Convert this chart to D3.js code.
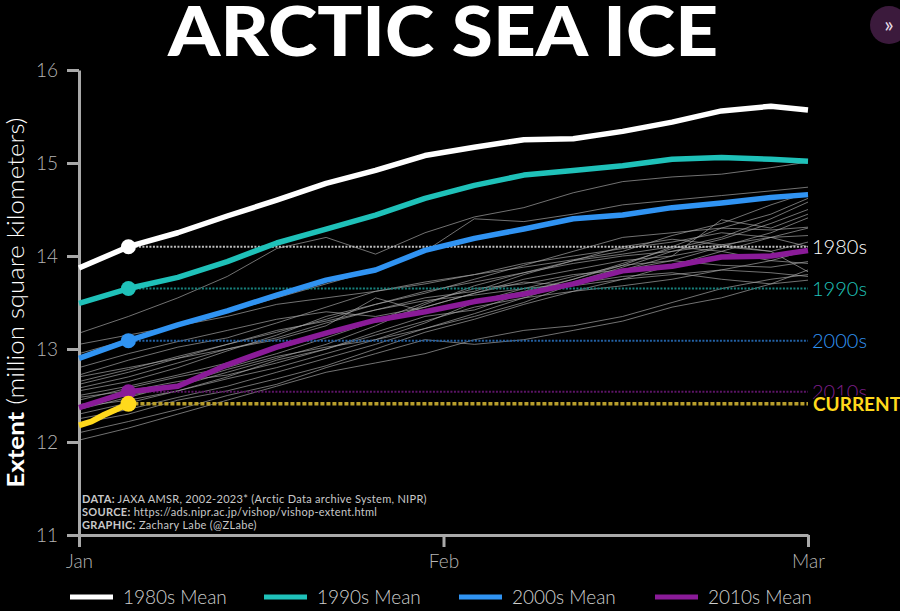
<!DOCTYPE html>
<html>
<head>
<meta charset="utf-8">
<script src="https://cdn.jsdelivr.net/npm/d3@7"></script>
<style>
  body { margin: 0; background: #000; }
  svg { display: block; }
</style>
</head>
<body>
<div id="chart"></div>
<script>
// sample days (0 = Jan 1)
const days = [0, 4, 8, 12, 16, 20, 24, 28, 32, 36, 40, 44, 48, 52, 56, 59];

const mean1980s = [13.87, 14.10, 14.25, 14.43, 14.60, 14.78, 14.92, 15.08, 15.17, 15.25, 15.26, 15.34, 15.44, 15.56, 15.61, 15.57];
const mean1990s = [13.49, 13.65, 13.77, 13.94, 14.14, 14.29, 14.44, 14.62, 14.76, 14.87, 14.92, 14.97, 15.04, 15.06, 15.04, 15.02];
const mean2000s = [12.90, 13.09, 13.26, 13.41, 13.58, 13.74, 13.85, 14.06, 14.19, 14.29, 14.40, 14.44, 14.52, 14.57, 14.63, 14.66];
const mean2010s = [12.37, 12.54, 12.60, 12.83, 13.02, 13.17, 13.31, 13.40, 13.51, 13.59, 13.70, 13.84, 13.89, 13.99, 14.00, 14.06];

const currentDays = [0, 1, 2, 3, 4];
const currentVals = [12.18, 12.22, 12.29, 12.35, 12.41];

// individual years 2002-2022 (same sample days)
const yearLines = [
  [13.17, 13.35, 13.55, 13.78, 14.08, 14.20, 14.02, 14.25, 14.42, 14.52, 14.68, 14.80, 14.85, 14.88, 14.95, 15.01],
  [12.95, 13.10, 13.25, 13.40, 13.55, 13.70, 13.85, 14.05, 14.40, 14.37, 14.45, 14.55, 14.60, 14.65, 14.70, 14.74],
  [12.50, 12.60, 12.72, 12.85, 13.00, 13.15, 13.30, 13.45, 13.60, 13.75, 13.85, 13.95, 14.00, 14.39, 14.30, 14.45],
  [12.02, 12.15, 12.30, 12.45, 12.60, 12.75, 12.85, 12.95, 13.10, 13.20, 13.25, 13.35, 13.50, 13.65, 13.75, 13.80],
  [12.10, 12.22, 12.35, 12.50, 12.62, 12.80, 12.95, 13.10, 13.05, 13.10, 13.20, 13.30, 13.45, 13.55, 13.70, 13.85],
  [12.30, 12.42, 12.55, 12.70, 12.88, 13.00, 13.15, 13.30, 13.45, 13.55, 13.62, 13.75, 13.90, 14.05, 14.20, 14.30],
  [12.45, 12.58, 12.70, 12.80, 12.95, 13.12, 13.30, 13.50, 13.65, 13.70, 13.80, 13.85, 13.95, 14.10, 14.25, 14.41],
  [12.55, 12.65, 12.80, 12.98, 13.15, 13.35, 13.48, 13.60, 13.75, 13.90, 14.05, 14.20, 14.25, 14.30, 14.28, 14.31],
  [12.65, 12.78, 12.92, 13.05, 13.20, 13.30, 13.42, 13.55, 13.62, 13.80, 13.95, 14.10, 14.18, 14.12, 14.05, 14.15],
  [12.70, 12.80, 12.90, 13.00, 13.10, 13.25, 13.55, 13.40, 13.50, 13.62, 13.75, 13.92, 14.08, 14.20, 14.40, 14.58],
  [12.40, 12.50, 12.60, 12.75, 12.90, 13.05, 13.25, 13.48, 13.68, 13.82, 13.95, 14.02, 14.10, 14.05, 13.95, 13.92],
  [12.35, 12.48, 12.62, 12.78, 12.92, 13.02, 13.10, 13.22, 13.35, 13.50, 13.70, 13.85, 14.00, 14.10, 14.05, 13.83],
  [12.80, 12.95, 13.08, 13.20, 13.32, 13.40, 13.35, 13.45, 13.60, 13.72, 13.68, 13.75, 13.80, 13.85, 13.82, 13.78],
  [12.25, 12.35, 12.48, 12.60, 12.75, 12.90, 13.05, 13.22, 13.38, 13.55, 13.72, 13.88, 14.05, 14.18, 14.35, 14.50],
  [12.58, 12.70, 12.85, 13.00, 13.12, 13.28, 13.42, 13.52, 13.58, 13.65, 13.78, 13.90, 13.95, 13.90, 13.88, 13.94],
  [12.20, 12.30, 12.45, 12.55, 12.68, 12.82, 13.00, 13.18, 13.32, 13.48, 13.62, 13.68, 13.75, 13.85, 13.95, 14.06],
  [13.05, 13.15, 13.25, 13.35, 13.48, 13.55, 13.62, 13.70, 13.80, 13.88, 13.96, 14.05, 14.22, 14.35, 14.55, 14.68],
  [12.48, 12.55, 12.65, 12.72, 12.85, 13.00, 13.18, 13.35, 13.42, 13.60, 13.75, 13.90, 14.10, 14.30, 14.45, 14.62],
  [12.72, 12.88, 13.02, 13.12, 13.28, 13.45, 13.62, 13.72, 13.80, 13.92, 14.00, 14.08, 14.15, 14.25, 14.20, 14.10],
  [12.38, 12.45, 12.55, 12.68, 12.80, 12.95, 13.10, 13.28, 13.50, 13.65, 13.70, 13.78, 13.82, 13.75, 13.70, 13.74],
  [12.62, 12.75, 12.90, 13.05, 13.18, 13.32, 13.48, 13.62, 13.72, 13.82, 13.92, 14.00, 14.05, 14.12, 14.20, 14.22]
];

const monthTicks = [0, 29.5, 59];
const monthLabels = ["Jan", "Feb", "Mar"];
const yTicks = [11, 12, 13, 14, 15, 16];

const decades = ["1980s", "1990s", "2000s", "2010s"];
const decadeColors = ["#ffffff", "#1fc1b9", "#3093f2", "#8a1b98"];
const dotColors = ["#bdbdbd", "#17817c", "#2362a6", "#5c1466"];
const markerDay = 4;

const width = 900, height = 611;
const font = "Lato, 'Open Sans', sans-serif";

const svg = d3.select("#chart").append("svg")
  .attr("width", width)
  .attr("height", height)
  .style("background", "#000");

const x = d3.scaleLinear().domain([0, 59]).range([79, 808]);
const y = d3.scaleLinear().domain([11, 16]).range([535, 70]);

// title
svg.append("text")
  .attr("x", 443)
  .attr("y", 56)
  .attr("text-anchor", "middle")
  .attr("textLength", 550)
  .attr("lengthAdjust", "spacingAndGlyphs")
  .style("font-family", font)
  .style("font-weight", 900)
  .style("font-size", "68px")
  .style("fill", "#fff")
  .text("ARCTIC SEA ICE");

// little icon top right
svg.append("circle").attr("cx", 889).attr("cy", 25).attr("r", 19).attr("fill", "#3b1a3c");
svg.append("text")
  .attr("x", 889).attr("y", 32)
  .attr("text-anchor", "middle")
  .style("font-family", font)
  .style("font-size", "22px")
  .style("fill", "#e6dce6")
  .text("»");

// axes
const yAxis = svg.append("g")
  .attr("transform", `translate(${x(0)},0)`)
  .call(d3.axisLeft(y).tickValues(yTicks).tickSize(12).tickSizeOuter(0).tickPadding(9).tickFormat(d3.format("d")));

const xAxis = svg.append("g")
  .attr("transform", `translate(0,${y(11)})`)
  .call(d3.axisBottom(x).tickValues(monthTicks).tickSize(12).tickSizeOuter(0).tickPadding(8)
    .tickFormat((d, i) => monthLabels[i]));

[yAxis, xAxis].forEach(ax => {
  ax.select(".domain").attr("stroke", "#a9a9a9").attr("stroke-width", 3);
  ax.selectAll(".tick line").attr("stroke", "#a9a9a9").attr("stroke-width", 3);
  ax.selectAll(".tick text")
    .style("font-family", font)
    .style("font-weight", 300)
    .style("font-size", "19px")
    .style("fill", "#b5b5b5");
});

// y axis title
svg.append("text")
  .attr("transform", `translate(24,${y(13.5)}) rotate(-90)`)
  .attr("text-anchor", "middle")
  .attr("textLength", 370)
  .attr("lengthAdjust", "spacingAndGlyphs")
  .style("font-family", font)
  .style("font-size", "23px")
  .style("fill", "#fff")
  .call(t => {
    t.append("tspan").style("font-weight", 700).text("Extent");
    t.append("tspan").style("font-weight", 300).text(" (million square kilometers)");
  });

const line = d3.line().x((d, i) => x(days[i])).y(d => y(d));

// individual years
svg.append("g")
  .selectAll("path")
  .data(yearLines)
  .enter()
  .append("path")
  .attr("d", line)
  .attr("fill", "none")
  .attr("stroke", "#a8a8a8")
  .attr("stroke-opacity", 0.75)
  .attr("stroke-width", 0.9);

// dotted reference lines from markers
const markerIndex = days.indexOf(markerDay);
const means = [mean1980s, mean1990s, mean2000s, mean2010s];

means.forEach((m, i) => {
  svg.append("line")
    .attr("x1", x(markerDay)).attr("x2", x(59))
    .attr("y1", y(m[markerIndex])).attr("y2", y(m[markerIndex]))
    .attr("stroke", dotColors[i])
    .attr("stroke-width", 2)
    .attr("stroke-dasharray", "2,1.5");
});

const curLast = currentVals[currentVals.length - 1];
svg.append("line")
  .attr("x1", x(markerDay)).attr("x2", x(59))
  .attr("y1", y(curLast)).attr("y2", y(curLast))
  .attr("stroke", "#b89e2c")
  .attr("stroke-width", 3.5)
  .attr("stroke-dasharray", "4,2");

// mean lines
means.forEach((m, i) => {
  svg.append("path")
    .attr("d", line(m))
    .attr("fill", "none")
    .attr("stroke", decadeColors[i])
    .attr("stroke-width", 5.5)
    .attr("stroke-linejoin", "round");
  svg.append("circle")
    .attr("cx", x(markerDay))
    .attr("cy", y(m[markerIndex]))
    .attr("r", 7.5)
    .attr("fill", decadeColors[i]);
});

// current year
svg.append("path")
  .attr("d", d3.line().x((d, i) => x(currentDays[i])).y(d => y(d))(currentVals))
  .attr("fill", "none")
  .attr("stroke", "#ffd91c")
  .attr("stroke-width", 6)
  .attr("stroke-linecap", "butt");
svg.append("circle")
  .attr("cx", x(currentDays[currentDays.length - 1]))
  .attr("cy", y(curLast))
  .attr("r", 8)
  .attr("fill", "#ffd91c");

// right-hand labels
means.forEach((m, i) => {
  svg.append("text")
    .attr("x", 812)
    .attr("y", y(m[markerIndex]))
    .attr("dy", "0.36em")
    .style("font-family", font)
    .style("font-weight", 300)
    .style("font-size", "20px")
    .style("fill", i === 0 ? "#ffffff" : (i === 3 ? "#7d1f8a" : decadeColors[i]))
    .text(decades[i]);
});

svg.append("text")
  .attr("x", 813)
  .attr("y", y(curLast))
  .attr("dy", "0.38em")
  .style("font-family", font)
  .style("font-weight", 700)
  .style("font-size", "19px")
  .style("fill", "#ffd91c")
  .style("stroke", "#000")
  .style("stroke-width", 3)
  .style("paint-order", "stroke")
  .text("CURRENT");

// source note
const notes = [
  ["DATA:", " JAXA AMSR, 2002-2023* (Arctic Data archive System, NIPR)"],
  ["SOURCE:", " https://ads.nipr.ac.jp/vishop/vishop-extent.html"],
  ["GRAPHIC:", " Zachary Labe (@ZLabe)"]
];
const noteG = svg.append("g");
notes.forEach((n, i) => {
  const t = noteG.append("text")
    .attr("x", 82)
    .attr("y", 503 + i * 13)
    .style("font-family", font)
    .style("font-size", "11px")
    .style("letter-spacing", "0.3px")
    .style("fill", "#c8c8c8");
  t.append("tspan").style("font-weight", 700).text(n[0]);
  t.append("tspan").style("font-weight", 400).text(n[1]);
});

// legend
const legendX = [70, 264, 459, 655];
const legend = svg.append("g");
decades.forEach((d, i) => {
  legend.append("line")
    .attr("x1", legendX[i]).attr("x2", legendX[i] + 43)
    .attr("y1", 597).attr("y2", 597)
    .attr("stroke", decadeColors[i])
    .attr("stroke-width", 5);
  legend.append("text")
    .attr("x", legendX[i] + 53)
    .attr("y", 597)
    .attr("dy", "0.35em")
    .style("font-family", font)
    .style("font-weight", 300)
    .style("font-size", "19px")
    .style("fill", "#cfcfcf")
    .text(d + " Mean");
});
</script>
</body>
</html>
